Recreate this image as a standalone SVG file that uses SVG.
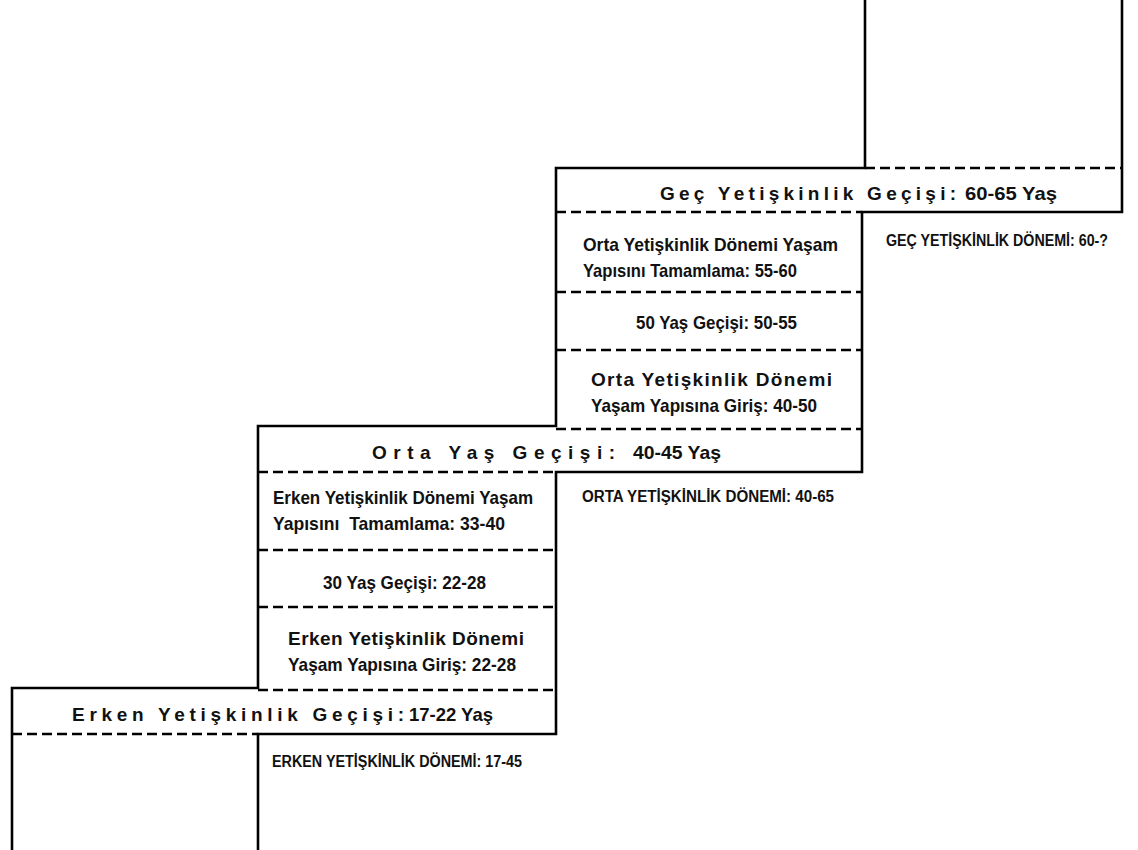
<svg xmlns="http://www.w3.org/2000/svg" width="1138" height="850" viewBox="0 0 1138 850">
<style>
.s{stroke:#000;stroke-width:2.6;fill:none;stroke-linecap:square}
.d{stroke:#000;stroke-width:2.6;fill:none;stroke-dasharray:10 5}
text{font-family:"Liberation Sans Narrow","Liberation Sans",Arial,sans-serif;font-weight:bold;fill:#111}
.b{font-size:19px}
.t{font-size:19px}
.u{font-size:16px}
</style>
<rect width="1138" height="850" fill="#fff"/>
<g id="connectors">
<path class="s" d="M12 850V688H258M258 688V426H556M556 426V168H865V0M865 168"/>
<path class="s" d="M258 850V734H556V472H862V212H1122V0"/>
<path class="d" d="M865 168H1122M556 212H862M556 292H862M556 350H862M556 429H862M258 472H556M258 550H556M258 607H556M258 690H556M12 734H258"/>
</g>
<g id="gec-gecis">
<text class="t" x="660" y="200" textLength="296" lengthAdjust="spacing">Geç Yetişkinlik Geçişi:</text>
<text class="t" x="965" y="200" textLength="92" lengthAdjust="spacingAndGlyphs">60-65 Yaş</text>
</g>
<g id="orta-tamamlama">
<text class="b" x="583" y="251" textLength="255" lengthAdjust="spacingAndGlyphs">Orta Yetişkinlik Dönemi Yaşam</text>
<text class="b" x="583" y="277" textLength="214" lengthAdjust="spacingAndGlyphs">Yapısını Tamamlama: 55-60</text>
</g>
<g id="elli-gecis">
<text class="b" x="636" y="329" textLength="161" lengthAdjust="spacingAndGlyphs">50 Yaş Geçişi: 50-55</text>
</g>
<g id="orta-giris">
<text class="b" x="591" y="386" textLength="241" lengthAdjust="spacing">Orta Yetişkinlik Dönemi</text>
<text class="b" x="591" y="412" textLength="226" lengthAdjust="spacingAndGlyphs">Yaşam Yapısına Giriş: 40-50</text>
</g>
<g id="gec-donem">
<text class="u" x="886" y="246" textLength="222" lengthAdjust="spacingAndGlyphs">GEÇ YETİŞKİNLİK DÖNEMİ: 60-?</text>
</g>
<g id="orta-gecis">
<text class="t" x="372" y="459" textLength="243" lengthAdjust="spacing">Orta Yaş Geçişi:</text>
<text class="t" x="633" y="459" textLength="88" lengthAdjust="spacingAndGlyphs">40-45 Yaş</text>
</g>
<g id="orta-donem">
<text class="u" x="582" y="502" textLength="252" lengthAdjust="spacingAndGlyphs">ORTA YETİŞKİNLİK DÖNEMİ: 40-65</text>
</g>
<g id="erken-tamamlama">
<text class="b" x="273" y="504" textLength="260" lengthAdjust="spacingAndGlyphs">Erken Yetişkinlik Dönemi Yaşam</text>
<text class="b" x="273" y="530" textLength="232" lengthAdjust="spacingAndGlyphs" xml:space="preserve">Yapısını  Tamamlama: 33-40</text>
</g>
<g id="otuz-gecis">
<text class="b" x="323" y="589" textLength="163" lengthAdjust="spacingAndGlyphs">30 Yaş Geçişi: 22-28</text>
</g>
<g id="erken-giris">
<text class="b" x="288" y="645" textLength="236" lengthAdjust="spacing">Erken Yetişkinlik Dönemi</text>
<text class="b" x="288" y="671" textLength="228" lengthAdjust="spacingAndGlyphs">Yaşam Yapısına Giriş: 22-28</text>
</g>
<g id="erken-gecis">
<text class="t" x="72" y="721" textLength="332" lengthAdjust="spacing">Erken Yetişkinlik Geçişi:</text>
<text class="t" x="409" y="721" textLength="84" lengthAdjust="spacingAndGlyphs">17-22 Yaş</text>
</g>
<g id="erken-donem">
<text class="u" x="272" y="767" textLength="250" lengthAdjust="spacingAndGlyphs">ERKEN YETİŞKİNLİK DÖNEMİ: 17-45</text>
</g>
</svg>
